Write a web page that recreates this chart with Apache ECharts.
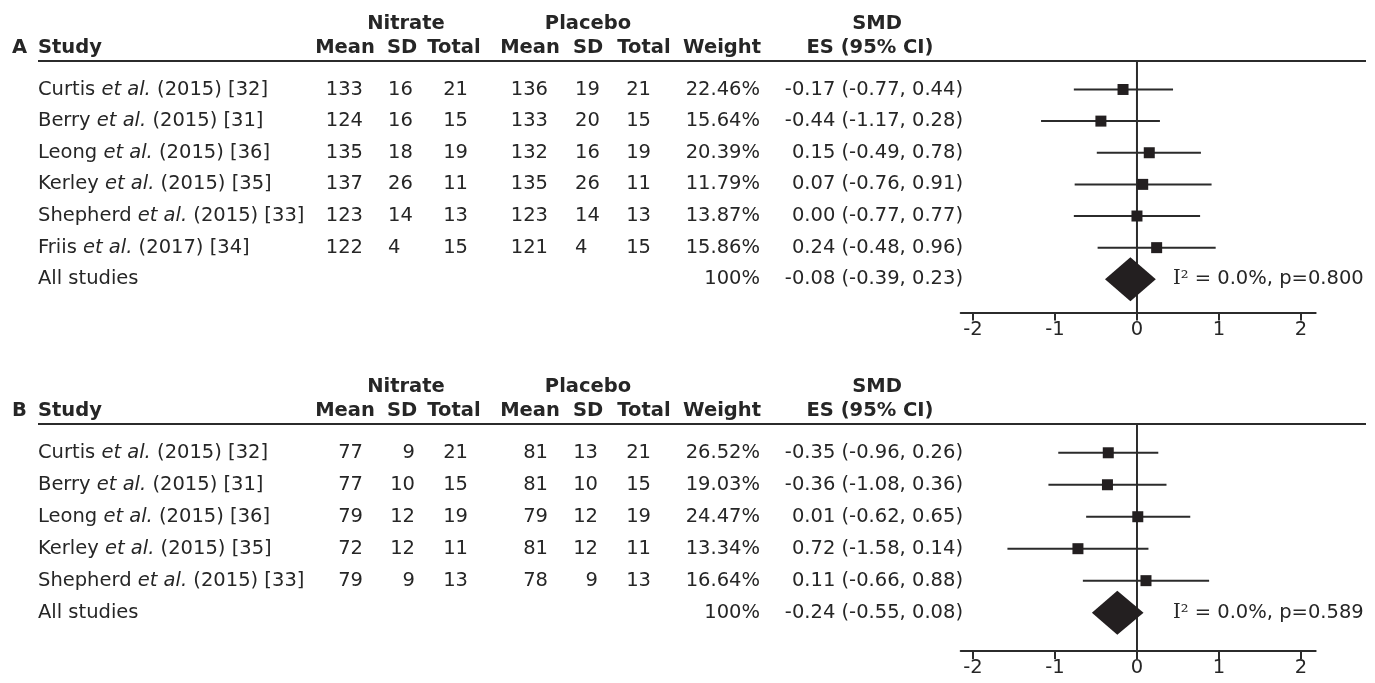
<!DOCTYPE html>
<html>
<head>
<meta charset="utf-8">
<script src="https://cdn.jsdelivr.net/npm/echarts@6/dist/echarts.min.js"></script>
<style>
  html, body { margin: 0; padding: 0; background: #fff; }
  #chart { width: 1375px; height: 683px; }
</style>
</head>
<body>
<div id="chart"></div>
<script>
// ---------- Panel A ----------
const authorsA   = ['Curtis', 'Berry', 'Leong', 'Kerley', 'Shepherd', 'Friis'];
const yearsA     = [2015, 2015, 2015, 2015, 2015, 2017];
const refsA      = [32, 31, 36, 35, 33, 34];
const nitMeanA   = [133, 124, 135, 137, 123, 122];
const nitSdA     = [16, 16, 18, 26, 14, 4];
const nitTotalA  = [21, 15, 19, 11, 13, 15];
const plaMeanA   = [136, 133, 132, 135, 123, 121];
const plaSdA     = [19, 20, 16, 26, 14, 4];
const plaTotalA  = [21, 15, 19, 11, 13, 15];
const weightA    = ['22.46%', '15.64%', '20.39%', '11.79%', '13.87%', '15.86%'];
const esA        = [-0.17, -0.44, 0.15, 0.07, 0.00, 0.24];
const loA        = [-0.77, -1.17, -0.49, -0.76, -0.77, -0.48];
const hiA        = [0.44, 0.28, 0.78, 0.91, 0.77, 0.96];
const pooledA    = [-0.08, -0.39, 0.23];          // ES, lower, upper
const hetA       = ['0.0%', '0.800'];              // I², p

// ---------- Panel B ----------
const authorsB   = ['Curtis', 'Berry', 'Leong', 'Kerley', 'Shepherd'];
const yearsB     = [2015, 2015, 2015, 2015, 2015];
const refsB      = [32, 31, 36, 35, 33];
const nitMeanB   = [77, 77, 79, 72, 79];
const nitSdB     = [9, 10, 12, 12, 9];
const nitTotalB  = [21, 15, 19, 11, 13];
const plaMeanB   = [81, 81, 79, 81, 78];
const plaSdB     = [13, 10, 12, 12, 9];
const plaTotalB  = [21, 15, 19, 11, 13];
const weightB    = ['26.52%', '19.03%', '24.47%', '13.34%', '16.64%'];
// Kerley's effect is negative (its CI runs -1.58 to 0.14); the table prints it without the sign.
const esB        = [-0.35, -0.36, 0.01, -0.72, 0.11];
const loB        = [-0.96, -1.08, -0.62, -1.58, -0.66];
const hiB        = [0.26, 0.36, 0.65, 0.14, 0.88];
const unsignedEsB = ['Kerley'];
const pooledB    = [-0.24, -0.55, 0.08];
const hetB       = ['0.0%', '0.589'];

const tickValues = [-2, -1, 0, 1, 2];

// ---------- styling ----------
const FONT = 'DejaVu Sans';
const FS = 19.5;
const INK = '#262626';
const LINE = '#2b2b2b';

function txt(x, y, text, align, bold, extra) {
  return {
    type: 'text',
    style: Object.assign({
      x: x, y: y, text: text,
      align: align, verticalAlign: 'middle',
      fontSize: FS, fontFamily: FONT,
      fontWeight: bold ? 'bold' : 'normal',
      fill: INK
    }, extra || {})
  };
}

const fmt = v => v.toFixed(2);

const panels = [
  {
    tag: 'A',
    authors: authorsA, years: yearsA, refs: refsA,
    nitMean: nitMeanA, nitSd: nitSdA, nitTotal: nitTotalA,
    plaMean: plaMeanA, plaSd: plaSdA, plaTotal: plaTotalA,
    weight: weightA, es: esA, lo: loA, hi: hiA, pooled: pooledA, het: hetA,
    unsigned: [],
    top: 61, height: 251.5, yMin: -0.9, yMax: 7.05,
    sdAlign: 'left', nitSdX: 388, plaSdX: 575
  },
  {
    tag: 'B',
    authors: authorsB, years: yearsB, refs: refsB,
    nitMean: nitMeanB, nitSd: nitSdB, nitTotal: nitTotalB,
    plaMean: plaMeanB, plaSd: plaSdB, plaTotal: plaTotalB,
    weight: weightB, es: esB, lo: loB, hi: hiB, pooled: pooledB, het: hetB,
    unsigned: unsignedEsB,
    top: 424, height: 227, yMin: -0.9, yMax: 6.2,
    sdAlign: 'right', nitSdX: 415, plaSdX: 598
  }
];

// table column anchors (pixels)
const COL = {
  study: 38, nitMean: 363, nitTotal: 468, plaMean: 548, plaTotal: 651,
  weight: 760, es: 963, het: 1173
};

const grids = [], xAxes = [], yAxes = [], series = [];

panels.forEach((p, k) => {
  const n = p.authors.length;
  grids.push({ left: 960.7, top: p.top, width: 355, height: p.height });
  xAxes.push({
    gridIndex: k, type: 'value', min: -2.15, max: 2.18,
    axisLine: { show: true, onZero: false, lineStyle: { color: LINE, width: 2 } },
    axisTick: { show: true, customValues: tickValues, length: 8, lineStyle: { color: LINE, width: 2 } },
    axisLabel: { customValues: tickValues, margin: 7, fontSize: FS, fontFamily: FONT, color: INK },
    splitLine: { show: false }
  });
  yAxes.push({ gridIndex: k, type: 'value', inverse: true, min: p.yMin, max: p.yMax, show: false });

  // header block: group titles, column titles, rule
  series.push({
    type: 'custom', xAxisIndex: k, yAxisIndex: k, silent: true, z: 3,
    data: [[0, p.yMin]],
    encode: { x: 0, y: 1 },
    renderItem: (params, api) => {
      const ruleY = api.coord([0, p.yMin])[1];
      const y2 = ruleY - 13, y1 = ruleY - 37;
      return {
        type: 'group',
        children: [
          txt(406, y1, 'Nitrate', 'center', true),
          txt(588, y1, 'Placebo', 'center', true),
          txt(877, y1, 'SMD', 'center', true),
          txt(12, y2, p.tag, 'left', true),
          txt(COL.study, y2, 'Study', 'left', true),
          txt(345, y2, 'Mean', 'center', true),
          txt(402, y2, 'SD', 'center', true),
          txt(454, y2, 'Total', 'center', true),
          txt(530, y2, 'Mean', 'center', true),
          txt(588, y2, 'SD', 'center', true),
          txt(644, y2, 'Total', 'center', true),
          txt(761, y2, 'Weight', 'right', true),
          txt(870, y2, 'ES (95% CI)', 'center', true),
          {
            type: 'line',
            shape: { x1: 38, y1: ruleY, x2: 1366, y2: ruleY },
            style: { stroke: LINE, lineWidth: 2 }
          }
        ]
      };
    }
  });

  // table rows (studies + pooled)
  const rows = [];
  for (let i = 0; i <= n; i++) rows.push([0, i]);
  series.push({
    type: 'custom', xAxisIndex: k, yAxisIndex: k, silent: true, z: 3,
    data: rows,
    encode: { x: 0, y: 1 },
    renderItem: (params, api) => {
      const i = params.dataIndex;
      const y = api.coord([0, i])[1];
      if (i === n) {
        const esText = fmt(p.pooled[0]) + ' (' + fmt(p.pooled[1]) + ', ' + fmt(p.pooled[2]) + ')';
        return {
          type: 'group',
          children: [
            txt(COL.study, y, 'All studies', 'left', false),
            txt(COL.weight, y, '100%', 'right', false),
            txt(COL.es, y, esText, 'right', false),
            txt(COL.het, y, '{s|I²} = ' + p.het[0] + ', p=' + p.het[1], 'left', false, {
              rich: { s: { fontFamily: 'DejaVu Serif', fontSize: FS, fill: INK } }
            })
          ]
        };
      }
      const esVal = p.unsigned.indexOf(p.authors[i]) >= 0 ? Math.abs(p.es[i]) : p.es[i];
      const esText = fmt(esVal) + ' (' + fmt(p.lo[i]) + ', ' + fmt(p.hi[i]) + ')';
      const study = p.authors[i] + ' {i|et al.} (' + p.years[i] + ') [' + p.refs[i] + ']';
      return {
        type: 'group',
        children: [
          txt(COL.study, y, study, 'left', false, {
            rich: { i: { fontStyle: 'italic', fontFamily: FONT, fontSize: FS, fill: INK } }
          }),
          txt(COL.nitMean, y, String(p.nitMean[i]), 'right', false),
          txt(p.nitSdX, y, String(p.nitSd[i]), p.sdAlign, false),
          txt(COL.nitTotal, y, String(p.nitTotal[i]), 'right', false),
          txt(COL.plaMean, y, String(p.plaMean[i]), 'right', false),
          txt(p.plaSdX, y, String(p.plaSd[i]), p.sdAlign, false),
          txt(COL.plaTotal, y, String(p.plaTotal[i]), 'right', false),
          txt(COL.weight, y, p.weight[i], 'right', false),
          txt(COL.es, y, esText, 'right', false)
        ]
      };
    }
  });

  // line of no effect
  series.push({
    type: 'line', xAxisIndex: k, yAxisIndex: k, silent: true, z: 2,
    data: [[0, p.yMin], [0, p.yMax]],
    symbol: 'none',
    lineStyle: { color: LINE, width: 2 }
  });

  // study estimates with confidence intervals
  series.push({
    type: 'custom', xAxisIndex: k, yAxisIndex: k, silent: true, z: 4,
    data: p.es.map((e, i) => [e, p.lo[i], p.hi[i], i]),
    encode: { x: [0, 1, 2], y: 3 },
    renderItem: (params, api) => {
      const row = api.value(3);
      const a = api.coord([api.value(1), row]);
      const b = api.coord([api.value(2), row]);
      const c = api.coord([api.value(0), row]);
      const s = 11;
      return {
        type: 'group',
        children: [
          { type: 'line', shape: { x1: a[0], y1: a[1], x2: b[0], y2: b[1] },
            style: { stroke: LINE, lineWidth: 2 } },
          { type: 'rect', shape: { x: c[0] - s / 2, y: c[1] - s / 2, width: s, height: s },
            style: { fill: '#231f20' } }
        ]
      };
    }
  });

  // pooled estimate diamond
  series.push({
    type: 'custom', xAxisIndex: k, yAxisIndex: k, silent: true, z: 4,
    data: [[p.pooled[0], p.pooled[1], p.pooled[2], n]],
    encode: { x: [0, 1, 2], y: 3 },
    renderItem: (params, api) => {
      const row = api.value(3);
      const l = api.coord([api.value(1), row]);
      const r = api.coord([api.value(2), row]);
      const c = api.coord([api.value(0), row]);
      const h = 22;
      return {
        type: 'polygon',
        shape: { points: [[l[0], c[1]], [c[0], c[1] - h], [r[0], c[1]], [c[0], c[1] + h]] },
        style: { fill: '#231f20' }
      };
    }
  });
});

const chart = echarts.init(document.getElementById('chart'), null, { renderer: 'canvas' });
chart.setOption({
  animation: false,
  backgroundColor: '#ffffff',
  grid: grids,
  xAxis: xAxes,
  yAxis: yAxes,
  series: series
});
</script>
</body>
</html>
